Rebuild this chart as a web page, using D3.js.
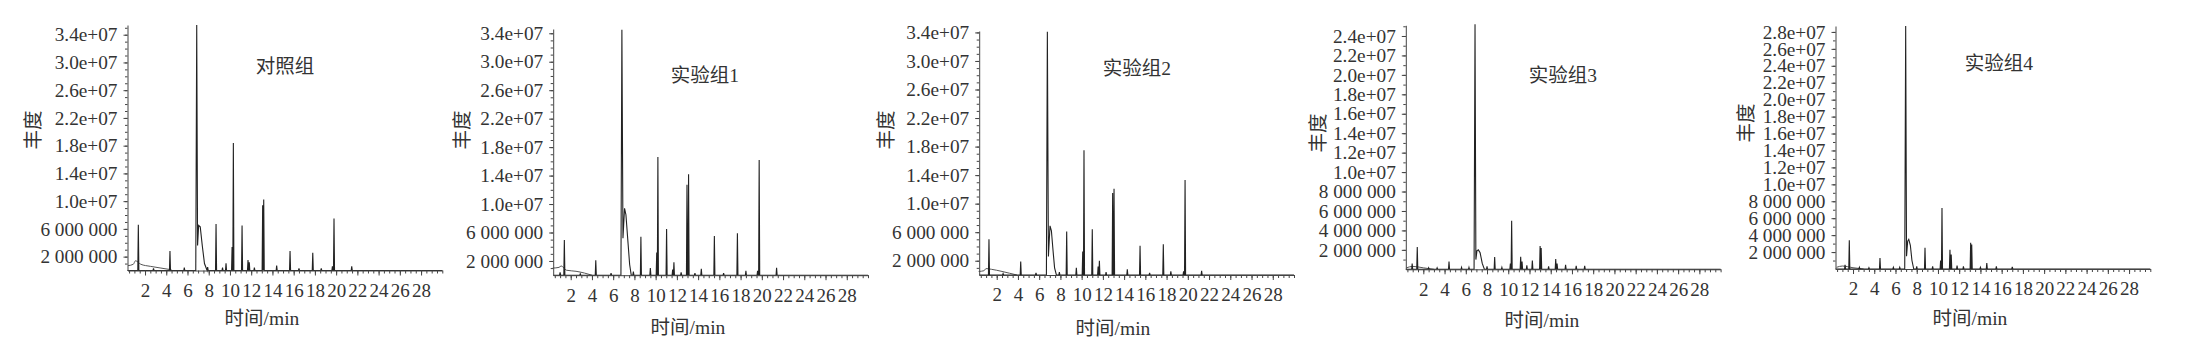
<!DOCTYPE html>
<html>
<head>
<meta charset="utf-8">
<script src="https://cdn.jsdelivr.net/npm/d3@7/dist/d3.min.js"></script>
<style>
  body { margin: 0; background: #fff; }
  text { font-family: "Liberation Serif", "Times New Roman", "Noto Sans CJK SC", serif; fill: #333; }
  .domain, .tick line { stroke: #444; }
</style>
</head>
<body>
<svg id="chart"></svg>
<script>
// panel titles
const titles = ["对照组", "实验组1", "实验组2", "实验组3", "实验组4"];

// tick labels
const xTicks = [2, 4, 6, 8, 10, 12, 14, 16, 18, 20, 22, 24, 26, 28];
const yTicks34 = [2e6, 6e6, 1.0e7, 1.4e7, 1.8e7, 2.2e7, 2.6e7, 3.0e7, 3.4e7];
const yTicks24 = [2e6, 4e6, 6e6, 8e6, 1.0e7, 1.2e7, 1.4e7, 1.6e7, 1.8e7, 2.0e7, 2.2e7, 2.4e7];
const yTicks28 = [2e6, 4e6, 6e6, 8e6, 1.0e7, 1.2e7, 1.4e7, 1.6e7, 1.8e7, 2.0e7, 2.2e7, 2.4e7, 2.6e7, 2.8e7];

// 对照组 : peaks (min, abundance)
const peakT1 = [1.37, 2.8, 4.35, 5.7, 7.9, 8.69, 9.3, 9.63, 10.2, 10.32, 11.14, 11.7, 11.82, 12.3, 13.08, 13.18, 14.4, 15.66, 16.5, 17.8, 18.6, 19.65, 19.8, 21.47];
const peakH1 = [6.6e6, 0.3e6, 2.8e6, 0.4e6, 0.5e6, 6.7e6, 0.4e6, 1.05e6, 3.4e6, 18.4e6, 6.5e6, 1.5e6, 1.2e6, 0.4e6, 9.4e6, 10.25e6, 0.7e6, 2.8e6, 0.3e6, 2.55e6, 0.3e6, 0.6e6, 7.5e6, 0.6e6];
const mainT1 = [6.78, 6.87, 6.95, 7.05, 7.2, 7.4, 7.6, 7.85];
const mainV1 = [0, 3.54e7, 3.6e6, 6.5e6, 6.3e6, 3.5e6, 1.0e6, 0];
const driftT1 = [0.4, 0.9, 1.1, 1.6, 2.5, 3.5, 4.5];
const driftV1 = [0.7e6, 0.9e6, 1.4e6, 0.9e6, 0.6e6, 0.35e6, 0.1e6];

// 实验组1
const peakT2 = [1.0, 1.40, 2.9, 4.36, 5.8, 7.9, 8.61, 9.5, 10.1, 10.21, 11.03, 11.6, 11.72, 12.4, 12.95, 13.1, 13.7, 14.3, 15.53, 16.4, 17.7, 18.5, 19.6, 19.75, 21.39];
const peakH2 = [0.4e6, 4.95e6, 0.2e6, 2.1e6, 0.3e6, 0.5e6, 5.4e6, 1.0e6, 3.2e6, 16.6e6, 6.5e6, 0.8e6, 1.8e6, 0.4e6, 12.7e6, 14.2e6, 0.3e6, 0.9e6, 5.5e6, 0.3e6, 5.9e6, 0.6e6, 0.6e6, 16.2e6, 1.05e6];
const mainT2 = [6.73, 6.82, 6.92, 7.07, 7.2, 7.4, 7.55, 7.7];
const mainV2 = [0, 3.45e7, 5.2e6, 9.4e6, 8.5e6, 4.5e6, 1.5e6, 0];
const driftT2 = [0.3, 0.9, 1.1, 1.6, 2.5, 3.3, 4.0];
const driftV2 = [1.0e6, 1.1e6, 1.3e6, 0.7e6, 0.55e6, 0.3e6, 0];

// 实验组2
const peakT3 = [1.27, 2.6, 4.26, 5.7, 7.9, 8.59, 9.5, 10.1, 10.22, 11.0, 11.55, 11.67, 12.3, 12.92, 13.05, 14.3, 15.5, 16.4, 17.69, 18.4, 19.6, 19.74, 21.3];
const peakH3 = [5.0e6, 0.2e6, 1.9e6, 0.3e6, 0.4e6, 6.1e6, 1.0e6, 3.3e6, 17.5e6, 6.4e6, 1.2e6, 2.0e6, 0.4e6, 11.5e6, 12.1e6, 0.8e6, 4.1e6, 0.3e6, 4.3e6, 0.5e6, 0.5e6, 13.3e6, 0.6e6];
const mainT3 = [6.68, 6.77, 6.87, 7.02, 7.15, 7.3, 7.45, 7.62];
const mainV3 = [0, 3.41e7, 2.6e6, 6.9e6, 6.2e6, 3.5e6, 1.0e6, 0];
const driftT3 = [0.3, 0.8, 1.0, 1.5, 2.5, 3.2, 3.9];
const driftV3 = [0.5e6, 0.6e6, 0.9e6, 0.8e6, 0.5e6, 0.25e6, 0];

// 实验组3
const peakT4 = [0.95, 1.43, 2.5, 3.3, 4.42, 5.6, 6.3, 8.0, 8.72, 9.4, 10.2, 10.32, 11.17, 11.3, 11.75, 12.27, 13.0, 13.1, 13.8, 14.47, 14.6, 15.4, 16.4, 17.2];
const peakH4 = [0.6e6, 2.28e6, 0.15e6, 0.15e6, 0.8e6, 0.2e6, 0.2e6, 0.3e6, 1.25e6, 0.2e6, 0.6e6, 5.0e6, 1.3e6, 0.8e6, 0.4e6, 0.9e6, 2.4e6, 2.2e6, 0.3e6, 1.05e6, 0.6e6, 0.45e6, 0.35e6, 0.35e6];
const mainT4 = [6.78, 6.87, 6.95, 7.05, 7.18, 7.35, 7.55, 7.75];
const mainV4 = [0, 2.52e7, 1.0e6, 1.9e6, 2.0e6, 1.7e6, 0.6e6, 0];
const driftT4 = [0.4, 1.0, 2.0, 3.0];
const driftV4 = [0.15e6, 0.3e6, 0.15e6, 0];

// 实验组4
const peakT5 = [1.25, 1.65, 2.6, 3.5, 4.54, 5.8, 6.4, 8.0, 8.78, 9.5, 10.25, 10.38, 11.13, 11.25, 11.8, 12.4, 13.08, 13.18, 14.0, 14.6, 15.5, 17.0];
const peakH5 = [0.5e6, 3.4e6, 0.2e6, 0.15e6, 1.3e6, 0.2e6, 0.2e6, 0.3e6, 2.5e6, 0.3e6, 1.0e6, 7.2e6, 2.27e6, 1.7e6, 0.4e6, 0.3e6, 3.1e6, 2.9e6, 0.2e6, 0.7e6, 0.3e6, 0.25e6];
const mainT5 = [6.87, 6.96, 7.04, 7.15, 7.25, 7.4, 7.55, 7.72];
const mainV5 = [0, 2.87e7, 1.5e6, 3.3e6, 3.5e6, 2.8e6, 1.0e6, 0];
const driftT5 = [0.45, 1.0, 2.0, 3.0];
const driftV5 = [0.2e6, 0.35e6, 0.15e6, 0];

// layout of each panel (pixels) and y-axis extent
const panels = [
  { title: titles[0], pT: peakT1, pH: peakH1, mT: mainT1, mV: mainV1, dT: driftT1, dV: driftV1, ticks: yTicks34, yMax: 3.54e7,
    left: 127.5, y0: 270.5, yTop: 25, titleXY: [285, 66], xlabXY: [262, 318], ylabXY: [33, 130] },
  { title: titles[1], pT: peakT2, pH: peakH2, mT: mainT2, mV: mainV2, dT: driftT2, dV: driftV2, ticks: yTicks34, yMax: 3.46e7,
    left: 553.2, y0: 275.2, yTop: 29, titleXY: [705, 75], xlabXY: [688, 327], ylabXY: [462, 130] },
  { title: titles[2], pT: peakT3, pH: peakH3, mT: mainT3, mV: mainV3, dT: driftT3, dV: driftV3, ticks: yTicks34, yMax: 3.42e7,
    left: 979.2, y0: 275, yTop: 31, titleXY: [1137, 68], xlabXY: [1113, 328], ylabXY: [886, 130] },
  { title: titles[3], pT: peakT4, pH: peakH4, mT: mainT4, mV: mainV4, dT: driftT4, dV: driftV4, ticks: yTicks24, yMax: 2.51e7,
    left: 1405.8, y0: 269.3, yTop: 25.3, titleXY: [1563, 75], xlabXY: [1542, 320], ylabXY: [1318, 133] },
  { title: titles[4], pT: peakT5, pH: peakH5, mT: mainT5, mV: mainV5, dT: driftT5, dV: driftV5, ticks: yTicks28, yMax: 2.87e7,
    left: 1835.5, y0: 269, yTop: 26, titleXY: [1999, 63], xlabXY: [1970, 318], ylabXY: [1746, 123] }
];

const W = 2193, H = 353;
const plotW = 314.8;
const halfW = 0.05; // half width of a spike, min

const svg = d3.select("#chart").attr("width", W).attr("height", H);
svg.append("rect").attr("width", W).attr("height", H).attr("fill", "#fff");

// 1.0e+07 style above 1e7, "2 000 000" below
function fmtY(v) {
  if (v < 1e7) return d3.format(",")(v).replace(/,/g, " ");
  return (v / 1e7).toFixed(1) + "e+07";
}

panels.forEach(p => {
  const x = d3.scaleLinear().domain([0.35, 30]).range([p.left, p.left + plotW]);
  const y = d3.scaleLinear().domain([0, p.yMax]).range([p.y0, p.yTop]);
  const g = svg.append("g");

  // build the trace: spikes plus the big peak with its shoulder
  let pts = [[0.35, 0], [30, 0]];
  p.pT.forEach((t, i) => {
    pts.push([t - halfW, 0], [t, p.pH[i]], [t + halfW, 0]);
  });
  p.mT.forEach((t, i) => pts.push([t, p.mV[i]]));
  pts.sort((a, b) => a[0] - b[0]);

  g.append("path")
    .datum(p.dT.map((t, i) => [t, p.dV[i]]))
    .attr("d", d3.line().x(d => x(d[0])).y(d => y(d[1])).curve(d3.curveMonotoneX))
    .attr("fill", "none").attr("stroke", "#555").attr("stroke-width", 1);

  g.append("path")
    .datum(pts)
    .attr("d", d3.line().x(d => x(d[0])).y(d => y(d[1])))
    .attr("fill", "none").attr("stroke", "#222").attr("stroke-width", 1.1);

  // minor ticks
  g.append("g")
    .attr("transform", "translate(0," + p.y0 + ")")
    .call(d3.axisBottom(x).tickValues(d3.range(0.5, 30.01, 0.5)).tickSize(3).tickSizeOuter(0).tickFormat(""))
    .select(".domain").remove();
  g.append("g")
    .attr("transform", "translate(" + p.left + ",0)")
    .call(d3.axisLeft(y).tickValues(d3.range(1e6, p.yMax, 1e6)).tickSize(2.5).tickSizeOuter(0).tickFormat(""))
    .select(".domain").remove();

  // x axis
  const xa = g.append("g")
    .attr("transform", "translate(0," + p.y0 + ")")
    .call(d3.axisBottom(x).tickValues(xTicks).tickSize(5).tickPadding(8).tickSizeOuter(0));
  xa.attr("font-family", null).attr("font-size", null);
  xa.selectAll("text").attr("font-size", 19);

  // y axis
  const ya = g.append("g")
    .attr("transform", "translate(" + p.left + ",0)")
    .call(d3.axisLeft(y).tickValues(p.ticks).tickSize(4).tickPadding(6).tickSizeOuter(0).tickFormat(fmtY));
  ya.attr("font-family", null).attr("font-size", null);
  ya.selectAll("text").attr("font-size", 19.3);

  g.selectAll(".domain").attr("stroke", "#444");

  // title
  g.append("text")
    .attr("x", p.titleXY[0]).attr("y", p.titleXY[1])
    .attr("text-anchor", "middle").attr("dominant-baseline", "central")
    .attr("font-size", 19.5)
    .text(p.title);

  // axis labels
  g.append("text")
    .attr("x", p.xlabXY[0]).attr("y", p.xlabXY[1])
    .attr("text-anchor", "middle").attr("dominant-baseline", "central")
    .attr("font-size", 19.5)
    .text("时间/min");

  g.append("text")
    .attr("transform", "translate(" + p.ylabXY[0] + "," + p.ylabXY[1] + ") rotate(-90)")
    .attr("text-anchor", "middle").attr("dominant-baseline", "central")
    .attr("font-size", 19.5)
    .text("丰度");
});
</script>
</body>
</html>
